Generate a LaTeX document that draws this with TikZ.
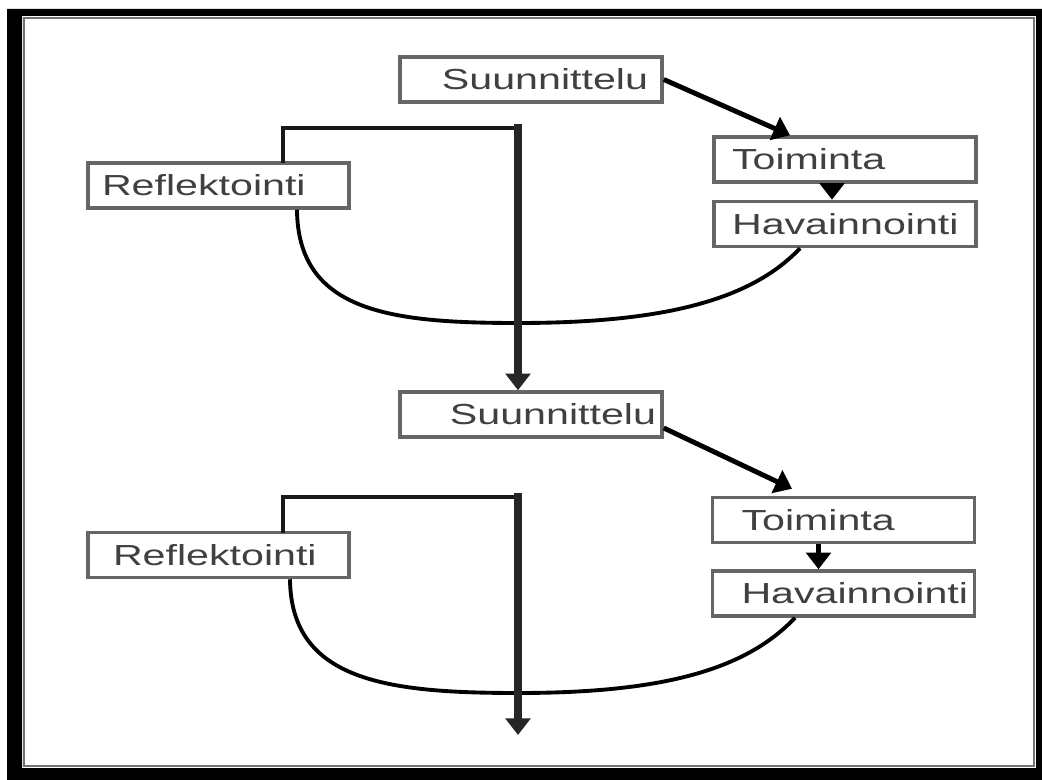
\documentclass[tikz,border=0pt]{standalone}
\usepackage{fontspec}
\newfontfamily\boxfont{Liberation Sans}[FakeStretch=1.42]
\usetikzlibrary{positioning,calc,arrows.meta}
\lefthyphenmin=64

\begin{document}
\begin{tikzpicture}[
    x=0.02cm, y=-0.02cm,
    node distance=0.32cm,
    box/.style={draw=black!60, line width=2pt, fill=white, minimum height=0.9cm,
                inner ysep=0pt, font={\boxfont\fontsize{16.5pt}{19pt}\selectfont}, text=black!75},
    lbox/.style={box, text width=4.52cm, inner xsep=0.36cm, align=left},
    rbox/.style={box, text width=4.68cm, inner xsep=0.28cm, align=right},
    arr/.style={line width=2.8pt, -{Triangle[length=9.5pt,width=14pt]}},
    bracket/.style={line width=2.4pt, black!90, line cap=rect},
    trunk/.style={line width=4pt, black!85, line cap=rect, -{Triangle[length=9.5pt,width=14pt]}},
    backcurve/.style={line width=2.2pt}
]
    \useasboundingbox (0,0) rectangle (1042,780);

    % Frame
    \fill[even odd rule] (7,9) rectangle (1042,780) (22,16) rectangle (1036,768);
    \draw[black!55, line width=1.6pt] (24,18) rectangle (1034,766);

    % First cycle
    \node[rbox] (plan1) at (531,79.5) {Suunnittelu};
    \node[lbox] (act1) at (845,159.5) {Toiminta};
    \node[lbox, below=0.32cm of act1] (obs1) {Havainnointi};
    \node[lbox, inner xsep=0.28cm, text width=4.66cm] (refl1) at (218.5,185.5) {Reflektointi};

    % Second cycle
    \node[rbox, inner xsep=0.12cm, text width=5cm] (plan2) at (531,414.5) {Suunnittelu};
    \node[lbox, inner xsep=0.58cm, text width=4.08cm] (act2) at (843.5,520) {Toiminta};
    \node[lbox, inner xsep=0.58cm, text width=4.08cm, below=0.5cm of act2] (obs2) {Havainnointi};
    \node[lbox, inner xsep=0.5cm, text width=4.22cm] (refl2) at (218.5,555) {Reflektointi};

    \coordinate (top1) at (518,128);
    \coordinate (low1) at (518,323);
    \coordinate (top2) at (518,497);
    \coordinate (low2) at (518,693);
    \coordinate (out) at (518,735);

    % Arrows inside the cycles
    \draw[arr] (plan1.east) -- ([xshift=-1.1cm]act1.north);
    \draw[arr] ([xshift=-0.26cm]act1.south) -- ([xshift=-0.26cm]obs1.north);
    \draw[arr] ([yshift=-0.27cm]plan2.east) -- ([xshift=-1.03cm,yshift=0.14cm]act2.north);
    \draw[arr] ([xshift=-0.5cm]act2.south) -- ([xshift=-0.5cm]obs2.north);

    % Back curves
    \draw[backcurve] ([xshift=1.57cm]refl1.south) .. controls +(1,102) and +(-128,0) .. (low1)
        .. controls +(142,0) and +(-50,53) .. ([xshift=-0.9cm]obs1.south);
    \draw[backcurve] ([xshift=1.43cm]refl2.south) .. controls +(1,102) and +(-130,0) .. (low2)
        .. controls +(142,0) and +(-50,53) .. ([xshift=-0.97cm]obs2.south);

    % Brackets and trunk
    \draw[bracket] ([xshift=1.29cm]refl1.north) |- (top1);
    \draw[trunk] (top1) -- (top1 |- plan2.north);
    \draw[bracket] ([xshift=1.29cm]refl2.north) |- (top2);
    \draw[trunk] (top2) -- (out);
\end{tikzpicture}
\end{document}
